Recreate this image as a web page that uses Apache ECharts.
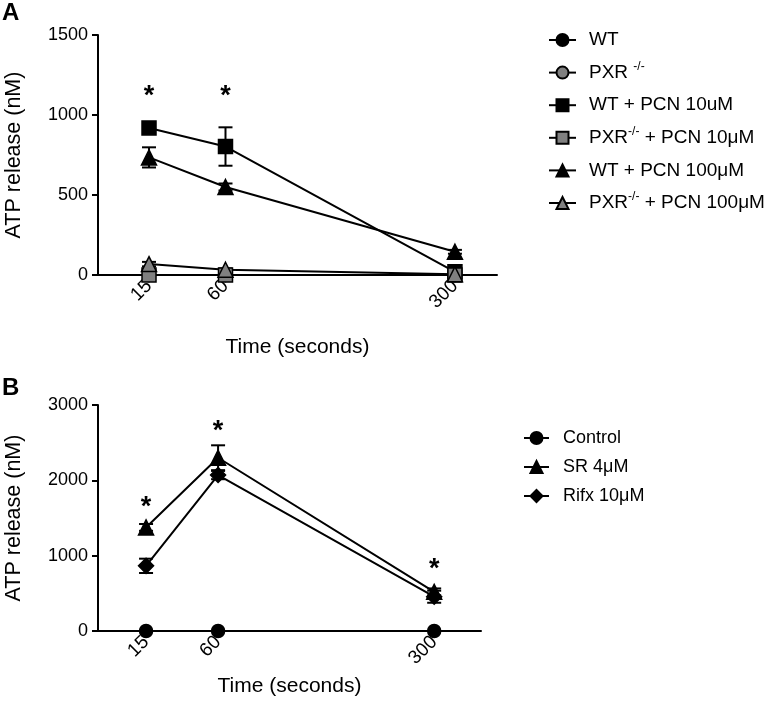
<!DOCTYPE html>
<html><head><meta charset="utf-8">
<script src="https://cdn.jsdelivr.net/npm/echarts@6/dist/echarts.min.js"></script>
<style>html,body{margin:0;padding:0;background:#fff}#c{width:766px;height:712px}</style>
</head><body><div id="c"></div>
<script>
// ---- data ----
const timeLabels = ['15', '60', '300'];
const timeSlots = [1, 2, 5];           // ordinal slot of each time point on the (non-linear) axis

const aNames = ['WT', 'PXR -/-', 'WT + PCN 10uM', 'PXR-/- + PCN 10μM', 'WT + PCN 100μM', 'PXR-/- + PCN 100μM'];
const aWT = [0, 0, 0];
const aWTErr = [0, 0, 0];
const aPXR = [0, 0, 0];
const aPXRErr = [0, 0, 0];
const aWTPCN10 = [919, 803, 20];
const aWTPCN10Err = [12, 120, 8];
const aPXRPCN10 = [0, 0, 0];
const aPXRPCN10Err = [3, 3, 3];
const aWTPCN100 = [735, 550, 145];
const aWTPCN100Err = [63, 22, 12];
const aPXRPCN100 = [68, 33, 5];
const aPXRPCN100Err = [14, 8, 3];
const aStarLevel = [1115, 1115, null];

const bNames = ['Control', 'SR 4μM', 'Rifx 10μM'];
const bControl = [0, 0, 0];
const bControlErr = [0, 0, 0];
const bSR = [1375, 2300, 520];
const bSRErr = [45, 165, 45];
const bRifx = [865, 2070, 455];
const bRifxErr = [95, 55, 80];
const bStarLevel = [1640, 2650, 815];

// ---- helpers ----
const FONT = 'Liberation Sans, Arial, Helvetica, sans-serif';
const GRAY = '#808080';

function errRender(params, api) {
  const x = api.value(0), m = api.value(1), e = api.value(2);
  if (!e) return null;
  const t = api.coord([x, m + e]), b = api.coord([x, m - e]);
  const cap = 7, st = {stroke: '#000', lineWidth: 2};
  return {type: 'group', children: [
    {type: 'line', shape: {x1: t[0], y1: t[1], x2: b[0], y2: b[1]}, style: st},
    {type: 'line', shape: {x1: t[0] - cap, y1: t[1], x2: t[0] + cap, y2: t[1]}, style: st},
    {type: 'line', shape: {x1: b[0] - cap, y1: b[1], x2: b[0] + cap, y2: b[1]}, style: st}
  ]};
}
function starRender(params, api) {
  const p = api.coord([api.value(0), api.value(1)]);
  return {type: 'text', style: {text: '*', x: p[0], y: p[1], align: 'center', verticalAlign: 'middle',
    font: 'bold 27px ' + FONT, fill: '#000'}};
}

const series = [];
function addSeries(name, gi, vals, errs, symbol, fill, size) {
  series.push({
    type: 'custom', name: name + '_err', xAxisIndex: gi, yAxisIndex: gi, z: 1, silent: true,
    renderItem: errRender, encode: {x: 0, y: 1},
    data: vals.map((v, i) => [timeSlots[i], v, errs[i]])
  });
  series.push({
    type: 'line', name: name, xAxisIndex: gi, yAxisIndex: gi, z: 3,
    symbol: symbol, symbolSize: size, showAllSymbol: true,
    itemStyle: {color: fill, borderColor: '#000', borderWidth: 1.5},
    lineStyle: {color: '#000', width: 2},
    emphasis: {disabled: true},
    data: vals.map((v, i) => [timeSlots[i], v])
  });
}
function addStars(gi, levels) {
  series.push({
    type: 'custom', xAxisIndex: gi, yAxisIndex: gi, z: 5, silent: true,
    renderItem: starRender, encode: {x: 0, y: 1},
    data: levels.map((v, i) => [timeSlots[i], v]).filter(d => d[1] != null)
  });
}

addSeries(aNames[0], 0, aWT, aWTErr, 'circle', '#000', 13);
addSeries(aNames[1], 0, aPXR, aPXRErr, 'circle', GRAY, 13);
addSeries(aNames[2], 0, aWTPCN10, aWTPCN10Err, 'rect', '#000', 14);
addSeries(aNames[3], 0, aPXRPCN10, aPXRPCN10Err, 'rect', GRAY, 14);
addSeries(aNames[4], 0, aWTPCN100, aWTPCN100Err, 'triangle', '#000', 15);
addSeries(aNames[5], 0, aPXRPCN100, aPXRPCN100Err, 'triangle', GRAY, 15);
addStars(0, aStarLevel);

addSeries(bNames[0], 1, bControl, bControlErr, 'circle', '#000', 13);
addSeries(bNames[1], 1, bSR, bSRErr, 'triangle', '#000', 15);
addSeries(bNames[2], 1, bRifx, bRifxErr, 'diamond', '#000', 15);
addStars(1, bStarLevel);

function xAxis(gi, max, gap) {
  return {
    type: 'value', gridIndex: gi, min: 0.333, max: max,
    name: 'Time (seconds)', nameLocation: 'middle', nameGap: gap,
    nameTextStyle: {fontSize: 21, fontFamily: FONT, color: '#000'},
    axisLine: {onZero: false, lineStyle: {color: '#000', width: 2}},
    axisTick: {show: false},
    splitLine: {show: false},
    axisLabel: {customValues: timeSlots, rotate: 45, margin: 8, fontSize: 19, fontFamily: FONT, color: '#000',
      formatter: v => timeLabels[timeSlots.indexOf(v)] || ''}
  };
}
function yAxis(gi, max, interval) {
  return {
    type: 'value', gridIndex: gi, min: 0, max: max, interval: interval,
    name: 'ATP release (nM)', nameLocation: 'middle', nameGap: 73,
    nameTextStyle: {fontSize: 21.5, fontFamily: FONT, color: '#000'},
    axisLine: {show: true, lineStyle: {color: '#000', width: 2}},
    axisTick: {show: true, length: 6, lineStyle: {color: '#000', width: 2}},
    splitLine: {show: false},
    axisLabel: {margin: 10, fontSize: 18, fontFamily: FONT, color: '#000', formatter: v => String(v)}
  };
}

const legendFmt = n => n.replace('-/-', '{s|-/-}');

const option = {
  animation: false,
  backgroundColor: '#fff',
  graphic: [
    {type: 'text', left: 2, top: 1, style: {text: 'A', font: 'bold 24px ' + FONT, fill: '#000'}},
    {type: 'text', left: 2, top: 376, style: {text: 'B', font: 'bold 24px ' + FONT, fill: '#000'}}
  ],
  grid: [
    {left: 98, top: 35, width: 399, height: 240, containLabel: false, outerBoundsMode: 'none'},
    {left: 98, top: 405, width: 383, height: 226, containLabel: false, outerBoundsMode: 'none'}
  ],
  xAxis: [xAxis(0, 5.55, 62), xAxis(1, 5.65, 45)],
  yAxis: [yAxis(0, 1500, 500), yAxis(1, 3000, 1000)],
  legend: [
    {data: aNames, orient: 'vertical', left: 543, top: 23, itemWidth: 27, itemHeight: 15, itemGap: 8.6,
     selectedMode: false, formatter: legendFmt,
     textStyle: {fontSize: 19, fontFamily: FONT, color: '#000', lineHeight: 24, padding: [0, 0, 0, 8],
       rich: {s: {fontSize: 12, fontFamily: FONT, color: '#000', verticalAlign: 'top', lineHeight: 14}}}},
    {data: bNames, orient: 'vertical', left: 518, top: 421, itemWidth: 25, itemHeight: 15, itemGap: 5,
     selectedMode: false,
     textStyle: {fontSize: 18, fontFamily: FONT, color: '#000', lineHeight: 24, padding: [0, 0, 0, 9]}}
  ],
  series: series
};

const chart = echarts.init(document.getElementById('c'), null, {renderer: 'canvas'});
chart.setOption(option);
</script>
</body></html>
